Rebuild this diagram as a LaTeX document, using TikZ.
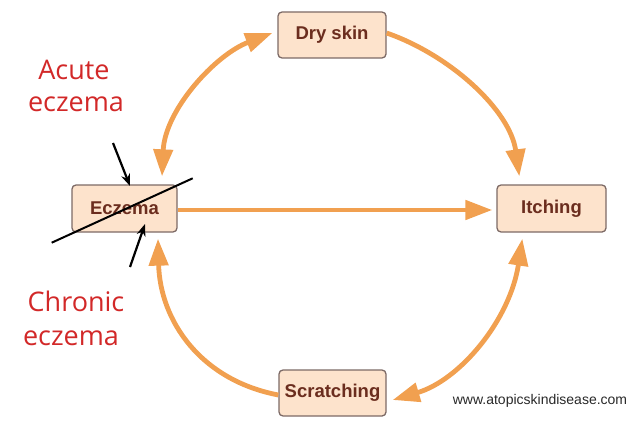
\documentclass[tikz,border=0pt]{standalone}
\usepackage{fontspec}
\setmainfont{Liberation Sans}
\newfontfamily\handfont{Open Sans}
\usetikzlibrary{arrows.meta}
\definecolor{boxfill}{RGB}{253,227,204}
\definecolor{boxline}{RGB}{125,106,102}
\definecolor{boxtext}{RGB}{107,45,30}
\definecolor{arroworange}{RGB}{241,160,80}
\definecolor{handred}{RGB}{210,40,40}
\definecolor{urlgray}{RGB}{40,40,40}
\tikzset{
  stagebox/.style={draw=boxline, line width=1.3pt, fill=boxfill, rounded corners=4pt,
    minimum height=46pt, text=boxtext, font=\fontsize{18.5}{21}\selectfont\bfseries, inner sep=0pt},
  cyclearrow/.style={draw=arroworange, line width=4.8pt, -{Triangle[length=27pt,width=19pt]}},
  botharrow/.style={draw=arroworange, line width=4.8pt, {Triangle[length=27pt,width=19pt]}-{Triangle[length=27pt,width=19pt]}},
  hand/.style={text=handred, font=\handfont\fontsize{27}{30}\selectfont},
  pointer/.style={draw=black, line width=2.2pt, -{Stealth[length=12pt,width=9pt]}},
}
\begin{document}
\begin{tikzpicture}[x=1pt,y=-1pt]
\useasboundingbox (0,0) rectangle (640,444);
\node[stagebox, minimum width=108pt] (dry) at (332,35) {Dry skin};
\node[stagebox, minimum width=105pt, minimum height=47pt] (ecz) at (124.5,208.5) {Eczema};
\node[stagebox, minimum width=109pt, minimum height=47pt] (itch) at (551.5,208.5) {Itching};
\node[stagebox, minimum width=107pt] (scr) at (332.5,393) {Scratching};

\draw[cyclearrow] ([yshift=2pt]dry.east) .. controls (450,55) and (510,110) .. ([xshift=23pt,yshift=8pt]itch.north west);
\draw[botharrow] ([xshift=26pt,yshift=-6pt]itch.south west) .. controls (510,320) and (460,380) .. ([xshift=6pt,yshift=-7pt]scr.east);
\draw[cyclearrow] ([yshift=-2pt]scr.west) .. controls (200,380) and (160,320) .. ([xshift=33.5pt,yshift=-6pt]ecz.south);
\draw[botharrow] ([xshift=37.5pt,yshift=8pt]ecz.north) .. controls (165,110) and (215,55) .. ([xshift=-5pt,yshift=2pt]dry.west);
\draw[cyclearrow] ([yshift=-1.5pt]ecz.east) -- ([xshift=-4pt,yshift=-1.5pt]itch.west);

\node[hand] (acute) at (74,70) {Acute};
\node[hand] (acute2) at (76,104) {eczema};
\node[hand] (chronic) at (76,301) {Chronic};
\node[hand] (chronic2) at (71,338) {eczema};

\coordinate (slashA) at (51.7,242.7);
\coordinate (slashB) at (192.7,178.3);
\draw[black, line width=2pt] (slashA) -- (slashB);
\coordinate (acuteTail) at (113,143);
\coordinate (acuteTip) at (130,186);
\coordinate (chronTail) at (130,267);
\coordinate (chronTip) at (145,224);
\draw[pointer] (acuteTail) -- (acuteTip);
\draw[pointer] (chronTail) -- (chronTip);

\node[text=urlgray, font=\fontsize{14}{16}\selectfont] (url) at (540,401) {www.atopicskindisease.com};
\end{tikzpicture}
\end{document}
